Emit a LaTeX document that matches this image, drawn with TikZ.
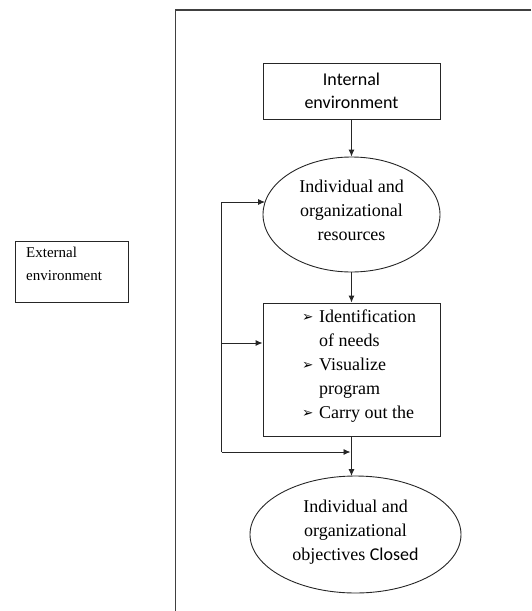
\documentclass[tikz,border=0pt]{standalone}
\usepackage{fontspec}
\setmainfont{Liberation Serif}
\newfontfamily\calib{Carlito}
\newfontfamily\dings{DejaVu Sans}
\usetikzlibrary{shapes.geometric,arrows.meta}
\tikzset{
  boxnode/.style={draw=black!85, line width=0.9pt, rectangle, inner sep=0pt},
  ellnode/.style={draw=black!85, line width=0.9pt, ellipse, inner sep=0pt, align=center, font=\fontsize{18}{24.5}\selectfont},
  arr/.style={draw=black!85, line width=0.9pt, -{Latex[length=7pt,width=6pt]}},
  conn/.style={draw=black!85, line width=0.9pt},
  frameline/.style={draw=black!75, line width=1.6pt},
  itemtxt/.style={anchor=base west, inner sep=0pt, font=\fontsize{18}{24}\selectfont},
  bultxt/.style={anchor=base west, inner sep=0pt, font=\dings\fontsize{13.5}{16}\selectfont}
}
\begin{document}
\begin{tikzpicture}[x=1pt,y=-1pt]
\useasboundingbox (0,0) rectangle (531,611);
% frame
\coordinate (ftr) at (531,10);
\coordinate (ftl) at (175.5,10);
\coordinate (fbl) at (175.5,611);
\draw[frameline] (ftr) -- (ftl) -- (fbl);

% external environment
\node[boxnode, minimum width=113pt, minimum height=61pt] (ext) at (71.5,271.5) {};
\node[anchor=base west, inner sep=0pt, font=\fontsize{15}{23}\selectfont] (extl1) at (26,257) {External};
\node[anchor=base west, inner sep=0pt, font=\fontsize{15}{23}\selectfont] (extl2) at (26,280) {environment};

% internal environment
\node[boxnode, minimum width=177pt, minimum height=56pt] (int) at (351.5,91) {};
\node[anchor=base, inner sep=0pt, font=\calib\fontsize{18}{23}\selectfont] (intl1) at (351.5,85) {Internal};
\node[anchor=base, inner sep=0pt, font=\calib\fontsize{18}{23}\selectfont] (intl2) at (351.5,108) {environment};

% resources ellipse
\node[ellnode, minimum width=177pt, minimum height=115pt] (res) at (351.5,214.5) {};
\node[anchor=base, inner sep=0pt, font=\fontsize{18}{24}\selectfont] (resl1) at (351.5,192) {Individual and};
\node[anchor=base, inner sep=0pt, font=\fontsize{18}{24}\selectfont] (resl2) at (351.5,216) {organizational};
\node[anchor=base, inner sep=0pt, font=\fontsize{18}{24}\selectfont] (resl3) at (351.5,240) {resources};

% program box
\node[boxnode, minimum width=177pt, minimum height=133pt] (prog) at (351.5,369.5) {};
\node[bultxt] (b1) at (302,321) {➢};
\node[itemtxt] (p1) at (319,322) {Identification};
\node[itemtxt] (p2) at (319,346) {of needs};
\node[bultxt] (b2) at (302,369) {➢};
\node[itemtxt] (p3) at (319,370) {Visualize};
\node[itemtxt] (p4) at (319,394) {program};
\node[bultxt] (b3) at (302,417) {➢};
\node[itemtxt] (p5) at (319,418) {Carry out the};

% objectives ellipse
\node[ellnode, minimum width=211pt, minimum height=117pt] (obj) at (355.5,534.5) {};
\node[anchor=base, inner sep=0pt, font=\fontsize{18}{24}\selectfont] (objl1) at (355.5,512) {Individual and};
\node[anchor=base, inner sep=0pt, font=\fontsize{18}{24}\selectfont] (objl2) at (355.5,536) {organizational};
\node[anchor=base, inner sep=0pt, font=\fontsize{18}{24}\selectfont] (objl3) at (355.5,560) {objectives {\calib Closed}};

% vertical arrows
\draw[arr] (int.south) -- (res.north);
\draw[arr] (res.south) -- (prog.north);
\coordinate (obtop) at (351.5,476);
\draw[arr] (prog.south) -- (obtop);

% feedback loop
\coordinate (fbTop) at (221.5,202);
\coordinate (fbMid) at (221.5,343);
\coordinate (fbBot) at (221.5,452);
\coordinate (join) at (351.5,452);
\coordinate (resin) at (265,202);
\draw[conn] (fbBot) -- (fbTop);
\draw[arr] (fbTop) -- (resin);
\draw[arr] (fbMid) -- (fbMid -| prog.west);
\draw[arr, shorten >=1pt] (fbBot) -- (join);
\end{tikzpicture}
\end{document}
